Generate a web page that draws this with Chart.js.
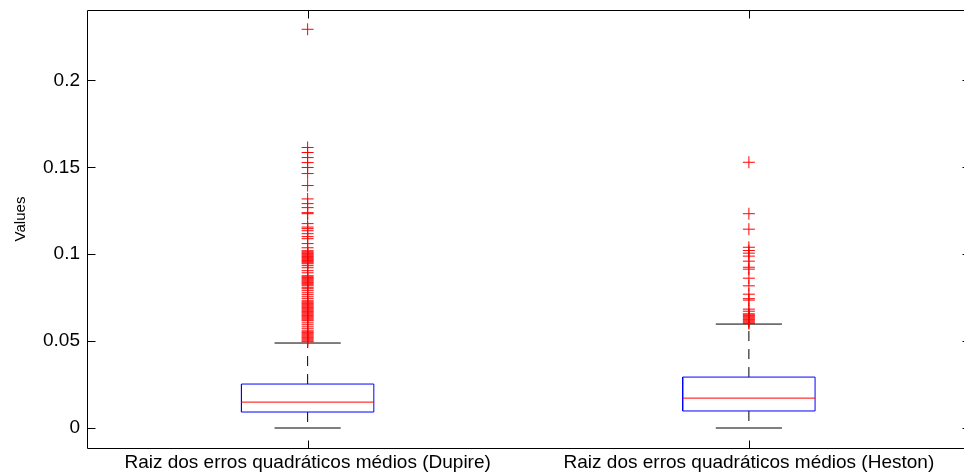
<!DOCTYPE html>
<html>
<head>
<meta charset="utf-8">
<script src="https://cdn.jsdelivr.net/npm/chart.js@4/dist/chart.umd.min.js"></script>
<style>
  html, body { margin: 0; padding: 0; background: #fff; overflow: hidden; }
  #wrap { width: 980px; height: 472px; }
</style>
</head>
<body>
<div id="wrap"><canvas id="c" width="980" height="472"></canvas></div>
<script>
// Box-plot statistics, one entry per category
const categories = [
  'Raiz dos erros quadráticos médios (Dupire)',
  'Raiz dos erros quadráticos médios (Heston)'
];
const lowerWhisker = [0.0, 0.0];
const q1 = [0.0092, 0.0098];
const median = [0.0149, 0.0172];
const q3 = [0.0253, 0.0293];
const upperWhisker = [0.0489, 0.0598];

const outliersDupire = [
  0.2294,
  0.1614, 0.1585, 0.1556, 0.1527, 0.1499, 0.1464, 0.1395,
  0.1318, 0.1291, 0.1268, 0.1239, 0.1233,
  0.1176, 0.1156, 0.1147, 0.1135, 0.1118, 0.1101, 0.1089,
  0.1061, 0.1037, 0.1020, 0.1014, 0.1008, 0.1003, 0.0997, 0.0991, 0.0986,
  0.0980, 0.0974, 0.0968, 0.0963, 0.0957, 0.0951,
  0.0945, 0.0934, 0.0922, 0.0905, 0.0893,
  0.0876, 0.0870, 0.0865, 0.0859, 0.0853, 0.0847, 0.0841, 0.0836, 0.0830,
  0.0824, 0.0818, 0.0807, 0.0801, 0.0790, 0.0778, 0.0767, 0.0755, 0.0744,
  0.0732, 0.0726, 0.0720, 0.0715, 0.0709, 0.0703, 0.0697, 0.0692, 0.0686,
  0.0680, 0.0674, 0.0669, 0.0663, 0.0657, 0.0651, 0.0646, 0.0640, 0.0634,
  0.0628, 0.0622, 0.0617, 0.0605, 0.0594, 0.0582, 0.0571,
  0.0559, 0.0553, 0.0548, 0.0542, 0.0536, 0.0530, 0.0524, 0.0519, 0.0513,
  0.0507, 0.0501, 0.0496
];
const outliersHeston = [
  0.1529, 0.1233, 0.1144, 0.1040, 0.1021, 0.1006, 0.0989, 0.0960,
  0.0925, 0.0914, 0.0862, 0.0818, 0.0770, 0.0744, 0.0736, 0.0684, 0.0672,
  0.0657, 0.0651, 0.0646, 0.0640, 0.0634, 0.0628, 0.0623, 0.0617, 0.0611,
  0.0605, 0.0601
];
const outliers = [outliersDupire, outliersHeston];

const yTicks = [0, 0.05, 0.1, 0.15, 0.2];
const yTickLabels = ['0', '0.05', '0.1', '0.15', '0.2'];
const yAxisLabel = 'Values';

// Styling
const BOX_HALF = 0.15;
const CAP_HALF = 0.075;
const TICK_LEN = 8;
const FONT = '"Liberation Sans", Arial, Helvetica, sans-serif';

Chart.defaults.font.family = FONT;
Chart.defaults.font.size = 19;
Chart.defaults.color = '#000';

function seg(points, color, dash) {
  return {
    type: 'scatter',
    data: points,
    showLine: true,
    borderColor: color,
    backgroundColor: color,
    borderWidth: 1,
    borderDash: dash || [],
    pointRadius: 0,
    pointHoverRadius: 0,
    fill: false,
    tension: 0
  };
}

const datasets = [];
// outliers on top
categories.forEach((_, i) => {
  datasets.push({
    type: 'scatter',
    data: outliers[i].map(v => ({ x: i + 1, y: v })),
    pointStyle: 'cross',
    pointRadius: 6,
    pointBorderWidth: 1,
    borderColor: '#ff0000',
    backgroundColor: '#ff0000',
    showLine: false
  });
});
categories.forEach((_, i) => {
  const c = i + 1;
  // median
  datasets.push(seg([{ x: c - BOX_HALF, y: median[i] }, { x: c + BOX_HALF, y: median[i] }], '#ff0000'));
  // box
  datasets.push(seg([
    { x: c - BOX_HALF, y: q1[i] }, { x: c + BOX_HALF, y: q1[i] },
    { x: c + BOX_HALF, y: q3[i] }, { x: c - BOX_HALF, y: q3[i] },
    { x: c - BOX_HALF, y: q1[i] }
  ], '#0000ff'));
  // whisker caps
  datasets.push(seg([{ x: c - CAP_HALF, y: upperWhisker[i] }, { x: c + CAP_HALF, y: upperWhisker[i] }], '#000'));
  datasets.push(seg([{ x: c - CAP_HALF, y: lowerWhisker[i] }, { x: c + CAP_HALF, y: lowerWhisker[i] }], '#000'));
  // dashed whiskers
  datasets.push(seg([{ x: c, y: q3[i] }, { x: c, y: upperWhisker[i] }], '#000', [10, 8]));
  datasets.push(seg([{ x: c, y: q1[i] }, { x: c, y: lowerWhisker[i] }], '#000', [10, 8]));
});

// Axes box with inward tick marks on all four sides, plus the rotated y label
const frame = {
  id: 'frame',
  beforeDatasetsDraw(chart) {
    const { ctx, chartArea: a, scales: { x, y } } = chart;
    const L = Math.round(a.left) + 0.5, R = Math.round(a.right) + 0.5;
    const T = Math.round(a.top) + 0.5, B = Math.round(a.bottom) + 0.5;
    ctx.save();
    ctx.strokeStyle = '#000';
    ctx.lineWidth = 1;
    ctx.beginPath();
    ctx.rect(L, T, R - L, B - T);
    y.ticks.forEach(t => {
      const py = Math.round(y.getPixelForValue(t.value)) + 0.5;
      ctx.moveTo(L, py); ctx.lineTo(L + TICK_LEN, py);
      ctx.moveTo(R, py); ctx.lineTo(R - TICK_LEN, py);
    });
    x.ticks.forEach(t => {
      const px = Math.round(x.getPixelForValue(t.value)) + 0.5;
      ctx.moveTo(px, B); ctx.lineTo(px, B - TICK_LEN);
      ctx.moveTo(px, T); ctx.lineTo(px, T + TICK_LEN);
    });
    ctx.stroke();

    // y-axis label, rotated, sitting slightly above the middle of the axis
    ctx.translate(21, (a.top + a.bottom) / 2 - 10);
    ctx.rotate(-Math.PI / 2);
    ctx.font = '15px ' + FONT;
    ctx.fillStyle = '#000';
    ctx.textAlign = 'center';
    ctx.textBaseline = 'middle';
    ctx.fillText(yAxisLabel, 0, 0);
    ctx.restore();
  }
};

new Chart(document.getElementById('c'), {
  type: 'scatter',
  data: { datasets },
  options: {
    responsive: false,
    animation: false,
    events: [],
    layout: { padding: { top: 10, right: 10.5, bottom: 0, left: 0 } },
    plugins: { legend: { display: false }, tooltip: { enabled: false } },
    scales: {
      x: {
        type: 'linear',
        min: 0.5,
        max: 2.5,
        grid: { display: false, drawTicks: false },
        border: { display: false },
        afterBuildTicks: s => { s.ticks = categories.map((_, i) => ({ value: i + 1 })); },
        afterFit: s => { s.height = 24; s.paddingLeft = 0; s.paddingRight = 0; },
        ticks: {
          autoSkip: false,
          maxRotation: 0,
          padding: 3,
          callback: v => categories[v - 1]
        }
      },
      y: {
        type: 'linear',
        min: -0.0115,
        max: 0.2405,
        grid: { display: false, drawTicks: false },
        border: { display: false },
        afterBuildTicks: s => { s.ticks = yTicks.map(v => ({ value: v })); },
        afterFit: s => { s.width = 87; s.paddingTop = 0; s.paddingBottom = 0; },
        ticks: {
          padding: 7,
          callback: (v, idx) => yTickLabels[idx]
        }
      }
    }
  },
  plugins: [frame]
});
</script>
</body>
</html>
